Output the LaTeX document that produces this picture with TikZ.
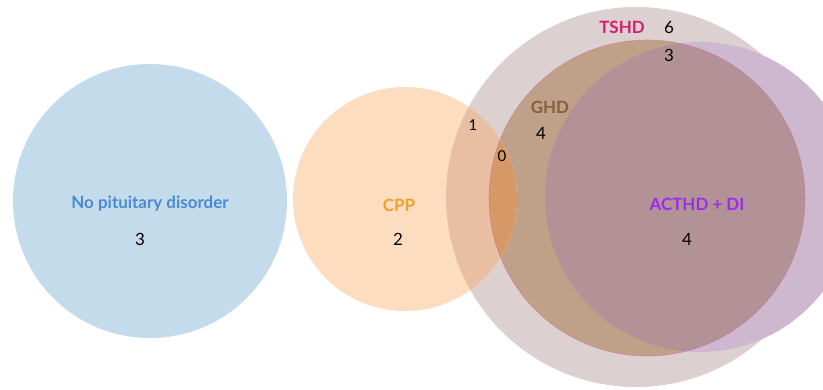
\documentclass[tikz,border=0pt]{standalone}
\usepackage{fontspec}
\setmainfont{Lato}
\definecolor{cBlue}{HTML}{C3DBEA}
\definecolor{cPeach}{HTML}{FDDDC0}
\definecolor{cPeachT}{HTML}{E8BFA2}
\definecolor{cPeachG}{HTML}{D69866}
\definecolor{cTshd}{HTML}{DDD0D0}
\definecolor{cGhd}{HTML}{BFA18A}
\definecolor{cMauve}{HTML}{B39297}
\definecolor{cLav}{HTML}{CDB8D0}
\definecolor{tBlue}{HTML}{4A8AD4}
\definecolor{tOrange}{HTML}{F0A030}
\definecolor{tTshd}{HTML}{D21E6E}
\definecolor{tGhd}{HTML}{86603A}
\definecolor{tActh}{HTML}{9A2CF0}
\tikzset{
  lbl/.style={font=\fontsize{17}{20}\selectfont\bfseries, inner sep=0pt},
  num/.style={font=\fontsize{17}{20}\selectfont, text=black, inner sep=0pt},
  smallnum/.style={font=\fontsize{15}{18}\selectfont, text=black, inner sep=0pt}
}
\def\TSHD{(636,197) circle[radius=190bp]}
\def\GHD{(647,198) circle[radius=158bp]}
\def\DI{(700,197) circle[radius=155bp]}
\def\CPP{(405,199) circle[radius=112bp]}
\def\NPD{(150,201) circle[radius=137bp]}
\begin{document}
\begin{tikzpicture}[x=1bp,y=-1bp]
\useasboundingbox (0,0) rectangle (823,389);
\fill[white] (0,0) rectangle (823,389);
\begin{scope}
\clip (0,0) rectangle (823,389);
\fill[cTshd] \TSHD;
\fill[cLav] \DI;
\fill[cGhd] \GHD;
\begin{scope}
\clip \GHD;
\fill[cMauve] \DI;
\end{scope}
\fill[cPeach] \CPP;
\begin{scope}
\clip \CPP;
\fill[cPeachT] \TSHD;
\fill[cPeachG] \GHD;
\end{scope}
\fill[cBlue] \NPD;
\draw[line width=0.6bp, draw=magenta!40!cMauve, opacity=0.6] \GHD;
\end{scope}
% labels
\node[lbl, text=tBlue] (npd) at (150,204) {No pituitary disorder};
\node[num] (npdn) at (140,239) {3};
\node[lbl, text=tOrange] (cpp) at (399,205) {CPP};
\node[num] (cppn) at (398,239) {2};
\node[smallnum] (n1) at (473,125) {1};
\node[smallnum] (n0) at (502,156) {0};
\node[lbl, text=tGhd] (ghd) at (550,107) {GHD};
\node[num] (ghdn) at (541,133) {4};
\node[lbl, text=tTshd] (tshd) at (622,27) {TSHD};
\node[num] (tshdn) at (669,27) {6};
\node[num] (n3) at (669,55) {3};
\node[lbl, text=tActh] (acth) at (697,204) {ACTHD + DI};
\node[num] (acthn) at (687,239) {4};
\end{tikzpicture}
\end{document}
